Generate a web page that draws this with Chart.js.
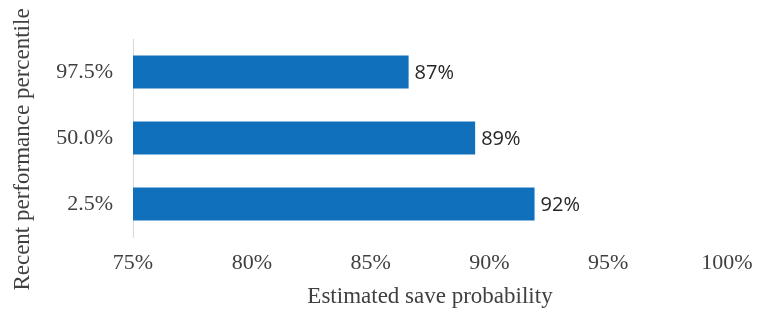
<!DOCTYPE html>
<html>
<head>
<meta charset="utf-8">
<script src="https://cdn.jsdelivr.net/npm/chart.js@4/dist/chart.umd.min.js"></script>
<style>
  html, body { margin: 0; padding: 0; background: #ffffff; }
  #wrap { width: 757px; height: 309px; }
</style>
</head>
<body>
<div id="wrap"><canvas id="c" width="757" height="309"></canvas></div>
<script>
// Data
const categories = ['97.5%', '50.0%', '2.5%'];
const saveProbability = [86.6, 89.4, 91.9];
const valueLabels = ['87%', '89%', '92%'];
const xTickMin = 75;
const xTickMax = 100;
const xTickStep = 5;

const serif = '"Liberation Serif", "Times New Roman", serif';
const textColor = '#404040';

const barLabelPlugin = {
  id: 'barLabels',
  afterDatasetsDraw(chart) {
    const ctx = chart.ctx;
    const meta = chart.getDatasetMeta(0);
    ctx.save();
    ctx.font = '20px "Open Sans", sans-serif';
    ctx.fillStyle = '#262626';
    ctx.textAlign = 'left';
    ctx.textBaseline = 'middle';
    meta.data.forEach((bar, i) => {
      ctx.fillText(valueLabels[i], bar.x + 6, bar.y + 1);
    });
    ctx.restore();
  }
};

new Chart(document.getElementById('c'), {
  type: 'bar',
  data: {
    labels: categories,
    datasets: [{
      data: saveProbability,
      backgroundColor: '#1170BB',
      borderWidth: 0,
      barPercentage: 0.5,
      categoryPercentage: 1.0
    }]
  },
  options: {
    indexAxis: 'y',
    responsive: false,
    animation: false,
    layout: { padding: { top: 39, right: 30, bottom: 0, left: 0 } },
    plugins: { legend: { display: false }, tooltip: { enabled: false } },
    scales: {
      x: {
        min: xTickMin,
        max: xTickMax,
        grid: { display: false, drawTicks: false },
        border: { display: false },
        ticks: {
          stepSize: xTickStep,
          padding: 13,
          color: textColor,
          font: { family: serif, size: 22 },
          maxRotation: 0,
          callback: v => v + '%'
        },
        title: {
          display: true,
          text: 'Estimated save probability',
          color: textColor,
          font: { family: serif, size: 23 },
          padding: { top: 0, bottom: -2 }
        },
        afterFit(scale) { scale.height = 72; scale.paddingRight = 0; }
      },
      y: {
        grid: { display: false, drawTicks: false },
        border: { display: true, color: '#d9d9d9', width: 1 },
        ticks: {
          padding: 20,
          color: textColor,
          font: { family: serif, size: 22 }
        },
        title: {
          display: true,
          text: 'Recent performance percentile    ',
          color: textColor,
          font: { family: serif, size: 23 },
          padding: { top: 9, bottom: 0 }
        },
        afterFit(scale) { scale.width = 133; }
      }
    }
  },
  plugins: [barLabelPlugin]
});
</script>
</body>
</html>
